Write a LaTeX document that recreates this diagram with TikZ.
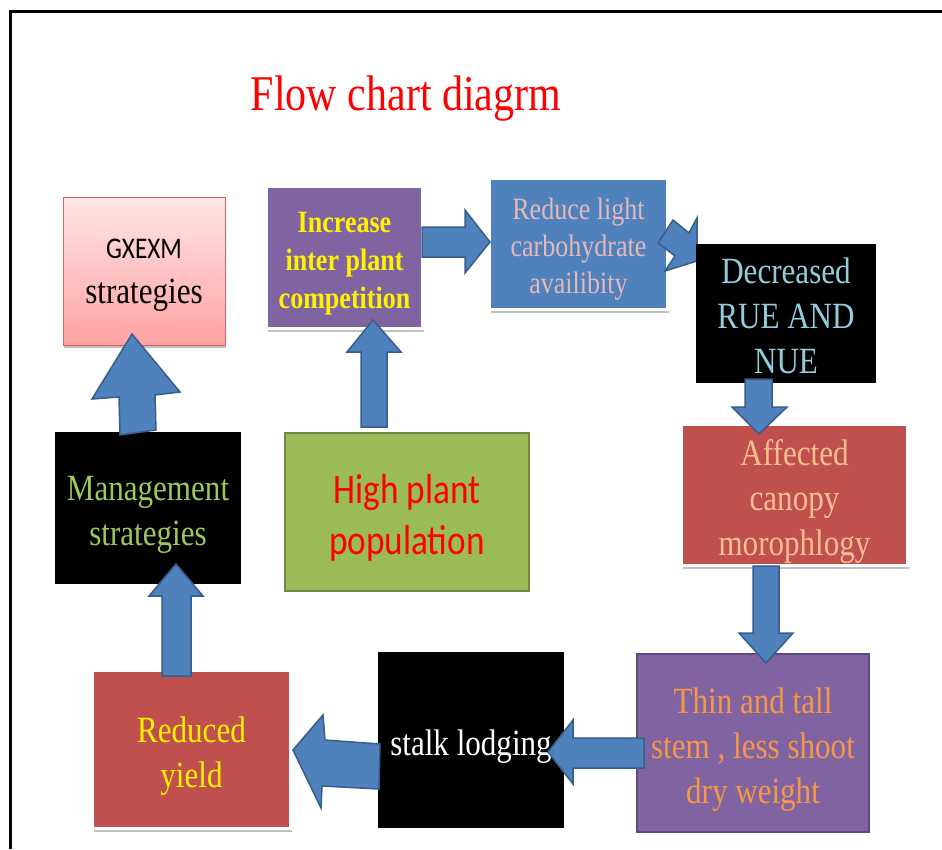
\documentclass[tikz,border=0pt]{standalone}
\usepackage{fontspec}
\setmainfont{Liberation Serif}[FakeStretch=0.84]
\setsansfont{Carlito}[FakeStretch=0.84]
\usetikzlibrary{shadows}

\definecolor{arrowblue}{HTML}{4F81BD}
\definecolor{arrowline}{HTML}{385D8A}
\definecolor{boxpurple}{HTML}{8064A2}
\definecolor{purpleline}{HTML}{5F497A}
\definecolor{boxred}{HTML}{C0504D}
\definecolor{boxgreen}{HTML}{9BBB59}
\definecolor{greenline}{HTML}{71893F}
\definecolor{pinktop}{HTML}{FFE6E6}
\definecolor{pinkbottom}{HTML}{FFA2A2}
\definecolor{pinkline}{HTML}{D9605C}
\definecolor{reducetext}{HTML}{E6B9B8}
\definecolor{decreasetext}{HTML}{93CDDD}
\definecolor{affecttext}{HTML}{FAC090}
\definecolor{thintext}{HTML}{F79646}
\definecolor{managetext}{HTML}{9DC85A}

\newcommand{\tstrut}[1][1.07em]{\rule{0pt}{#1}}
\newcommand{\bstrut}{\rule[-0.25em]{0pt}{0pt}}

\begin{document}
\begin{tikzpicture}[x=1pt, y=-1pt,
  box/.style={rectangle, inner sep=0pt, align=center, font=\fontsize{37}{45}\selectfont},
  framed/.style={box, draw=white, line width=3pt, drop shadow={shadow xshift=1pt, shadow yshift=-3pt, fill=black, opacity=0.25}},
  blockarrow/.style={fill=arrowblue, draw=arrowline, line width=1.5pt, line join=miter}]
\useasboundingbox (0,0) rectangle (942,849);
\draw[line width=3pt] (10,849) -- (10,11) -- (942,11);

\node[text=red, font=\fontsize{50}{60}\selectfont] (title) at (406,99) {Flow chart diagrm};

\node[box, top color=pinktop, bottom color=pinkbottom, draw=pinkline, line width=1pt, minimum width=162pt, minimum height=148pt,
  drop shadow={shadow xshift=1pt, shadow yshift=-3pt, fill=black, opacity=0.25}] (gxexm) at (144,271)
  {\tstrut[0.8em]{\sffamily\fontsize{30}{45}\selectfont GXEXM}\\strategies\bstrut};
\node[framed, fill=boxpurple, text=yellow, font=\bfseries\fontsize{31}{38}\selectfont, minimum width=156pt, minimum height=142pt] (increase) at (344.5,257.5)
  {\tstrut Increase\\inter plant\\competition\bstrut};
\node[framed, fill=arrowblue, text=reducetext, font=\fontsize{31}{37}\selectfont, minimum width=178pt, minimum height=131pt] (reduce) at (578.5,244)
  {\tstrut Reduce light\\carbohydrate\\availibity\bstrut};

% behind the black box
\draw[blockarrow] (673,220) -- (689,233) -- (697,218) -- (697,261) -- (665,271) -- (675,256) -- (658,243) -- cycle;

\node[box, fill=black, text=decreasetext, minimum width=180pt, minimum height=135pt] (decreased) at (786,313.5)
  {\tstrut Decreased\\RUE AND\\NUE\bstrut};
\node[framed, fill=boxred, text=affecttext, minimum width=226pt, minimum height=141pt] (affected) at (794.5,495)
  {\tstrut Affected\\canopy\\morophlogy\bstrut};
\node[box, fill=boxpurple, draw=purpleline, line width=2.5pt, text=thintext, minimum width=232pt, minimum height=178pt] (thin) at (753,743)
  {\tstrut Thin and tall\\stem , less shoot\\dry weight\bstrut};
\node[box, fill=black, text=white, minimum width=186pt, minimum height=176pt] (stalk) at (471,740)
  {\tstrut stalk lodging\bstrut};
\node[framed, fill=boxred, text=yellow, minimum width=198pt, minimum height=158pt] (reduced) at (191.5,749.5)
  {\tstrut Reduced\\yield\bstrut};
\node[box, fill=black, text=managetext, minimum width=186pt, minimum height=152pt] (management) at (148,508)
  {\tstrut Management\\strategies\bstrut};
\node[box, fill=boxgreen, draw=greenline, line width=2pt, text=red, font=\sffamily\fontsize{42}{51}\selectfont, minimum width=244pt, minimum height=158pt] (high) at (407,512)
  {\tstrut High plant\\population\bstrut};

\draw[blockarrow] (361,427) -- (361,352) -- (347,352) -- (373,320) -- (401,352) -- (387,352) -- (387,427) -- cycle;
\draw[blockarrow] (422,227) -- (465,227) -- (465,210) -- (490,242) -- (465,273) -- (465,257) -- (422,257) -- cycle;
\draw[blockarrow] (745,379) -- (772,379) -- (772,407) -- (787,407) -- (759,434) -- (732,407) -- (745,407) -- cycle;
\draw[blockarrow] (753,566) -- (779,566) -- (779,633) -- (793,633) -- (766,663) -- (739,633) -- (753,633) -- cycle;
\draw[blockarrow] (644,738) -- (573,738) -- (573,720) -- (548,752) -- (573,784) -- (573,768) -- (644,768) -- cycle;
\draw[blockarrow] (380,744) -- (325,740) -- (323,715) -- (293,750) -- (321,808) -- (322,786) -- (379,789) -- cycle;
\draw[blockarrow] (162,676) -- (162,596) -- (149,596) -- (176,564) -- (203,596) -- (191,596) -- (191,676) -- cycle;
\draw[blockarrow] (120,435) -- (119,397) -- (92,399) -- (132,334) -- (180,392) -- (155,395) -- (156,430) -- cycle;
\end{tikzpicture}
\end{document}
